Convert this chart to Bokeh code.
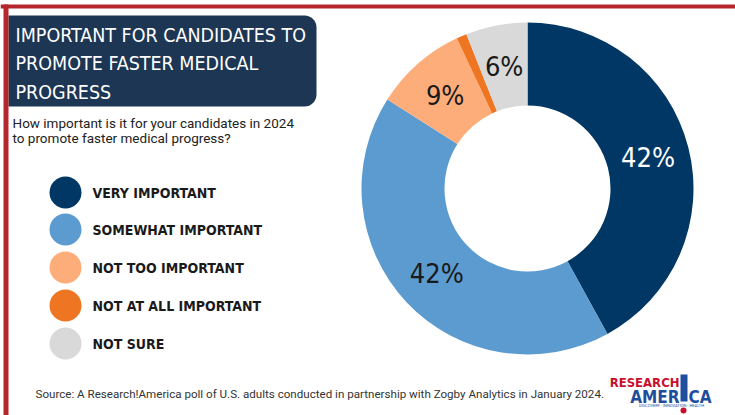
import math
from bokeh.plotting import figure
from bokeh.models import Range1d, BoxAnnotation, ColumnDataSource
from bokeh.core.properties import value
from bokeh.embed import file_html
from bokeh.resources import INLINE

# ---- data ----
categories = ["VERY IMPORTANT", "SOMEWHAT IMPORTANT", "NOT TOO IMPORTANT",
              "NOT AT ALL IMPORTANT", "NOT SURE"]
percents = [42, 42, 9, 1, 6]
show_label = [True, True, True, False, True]
colors = ["#003764", "#5b9bd0", "#fdad79", "#ee7623", "#d9d9d9"]
label_colors = ["white", "#1a1a1a", "#1a1a1a", "#1a1a1a", "#1a1a1a"]

title_lines = ["IMPORTANT FOR CANDIDATES TO", "PROMOTE FASTER MEDICAL", "PROGRESS"]
subtitle_lines = ["How important is it for your candidates in 2024",
                  "to promote faster medical progress?"]
source_text = ("Source:  A Research!America poll of U.S. adults conducted in "
               "partnership with Zogby Analytics in January 2024.")

W, H = 735, 415


def X(px):
    return px


def Y(py):
    return H - py


COND_FONT = "DejaVu Sans Condensed"

p = figure(width=W, height=H, x_range=Range1d(0, W), y_range=Range1d(0, H),
           output_backend="svg", toolbar_location=None, min_border=0)
p.axis.visible = False
p.grid.visible = False
p.outline_line_color = None
p.background_fill_color = "white"
p.border_fill_color = "white"

# red frame lines
p.quad(left=[0, 3], right=[W, 8], top=[Y(4), Y(4)], bottom=[Y(8), 0],
       fill_color="#b5272d", line_color=None)

# title box
p.add_layout(BoxAnnotation(left=8, right=X(316), top=Y(15), bottom=Y(106),
                           fill_color="#1d3653", fill_alpha=1, line_color=None,
                           border_radius=(0, 12, 12, 0), level="underlay"))

p.text(x=[X(15)] * 3, y=[Y(35), Y(63), Y(92)], text=title_lines,
       text_font=value(COND_FONT), text_font_size="19.5px", text_color="white",
       text_baseline="middle", text_align="left")

p.text(x=[X(12)] * 2, y=[Y(122), Y(137)], text=subtitle_lines,
       text_font=value("Roboto"), text_font_size="13.5px", text_color="#222222",
       text_baseline="middle", text_align="left")

# legend
leg_y = [Y(192), Y(229), Y(267), Y(305), Y(343)]
p.circle(x=[X(65)] * 5, y=leg_y, radius=16, fill_color=colors, line_color=None)
p.text(x=[X(92)] * 5, y=leg_y, text=categories,
       text_font=value(COND_FONT), text_font_style="bold", text_font_size="14px",
       text_color="#1a1a1a", text_baseline="middle", text_align="left")

# donut
cx, cy = X(527), Y(188)
r_in, r_out = 83, 166
total = sum(percents)
starts, ends, lx, ly = [], [], [], []
cum = 0
for v in percents:
    a0 = math.pi / 2 - 2 * math.pi * cum / total
    cum += v
    a1 = math.pi / 2 - 2 * math.pi * cum / total
    starts.append(a1)
    ends.append(a0)
    mid = (a0 + a1) / 2
    rl = (r_in + r_out) / 2
    lx.append(cx + rl * math.cos(mid))
    ly.append(cy + rl * math.sin(mid))

src = ColumnDataSource(dict(start=starts, end=ends, color=colors))
p.annular_wedge(x=cx, y=cy, inner_radius=r_in, outer_radius=r_out,
                start_angle="start", end_angle="end", fill_color="color",
                line_color=None, source=src)

lab = ColumnDataSource(dict(
    x=[a for a, s in zip(lx, show_label) if s],
    y=[b for b, s in zip(ly, show_label) if s],
    t=[f"{v}%" for v, s in zip(percents, show_label) if s],
    c=[c for c, s in zip(label_colors, show_label) if s]))
p.text(x="x", y="y", text="t", text_color="c", source=lab,
       text_font=value(COND_FONT), text_font_size="27px",
       text_baseline="middle", text_align="center")

# source
p.text(x=[X(35)], y=[Y(393)], text=[source_text], text_font=value("Roboto"),
       text_font_size="11.6px", text_color="#333333",
       text_baseline="middle", text_align="left")

# logo
p.text(x=[X(679)], y=[Y(382)], text=["RESEARCH"], text_font=value(COND_FONT),
       text_font_style="bold", text_font_size="13px", text_color="#c8102e",
       text_baseline="middle", text_align="right")
p.text(x=[X(679)], y=[Y(396)], text=["AMER"], text_font=value(COND_FONT),
       text_font_style="bold", text_font_size="17px", text_color="#1f4e9c",
       text_baseline="middle", text_align="right")
p.text(x=[X(688)], y=[Y(396)], text=["CA"], text_font=value(COND_FONT),
       text_font_style="bold", text_font_size="17px", text_color="#1f4e9c",
       text_baseline="middle", text_align="left")
p.quad(left=[X(680)], right=[X(687)], top=[Y(374)], bottom=[Y(401)],
       fill_color="#1f4e9c", line_color=None)
p.circle(x=[X(683)], y=[Y(410)], radius=3, fill_color="#c8102e", line_color=None)
p.text(x=[X(671)], y=[Y(405)], text=["DISCOVERY · INNOVATION · HEALTH"],
       text_font=value("Roboto"), text_font_size="4px", text_color="#1f4e9c",
       text_baseline="middle", text_align="center")

open("out.html", "w").write(file_html(p, INLINE))
